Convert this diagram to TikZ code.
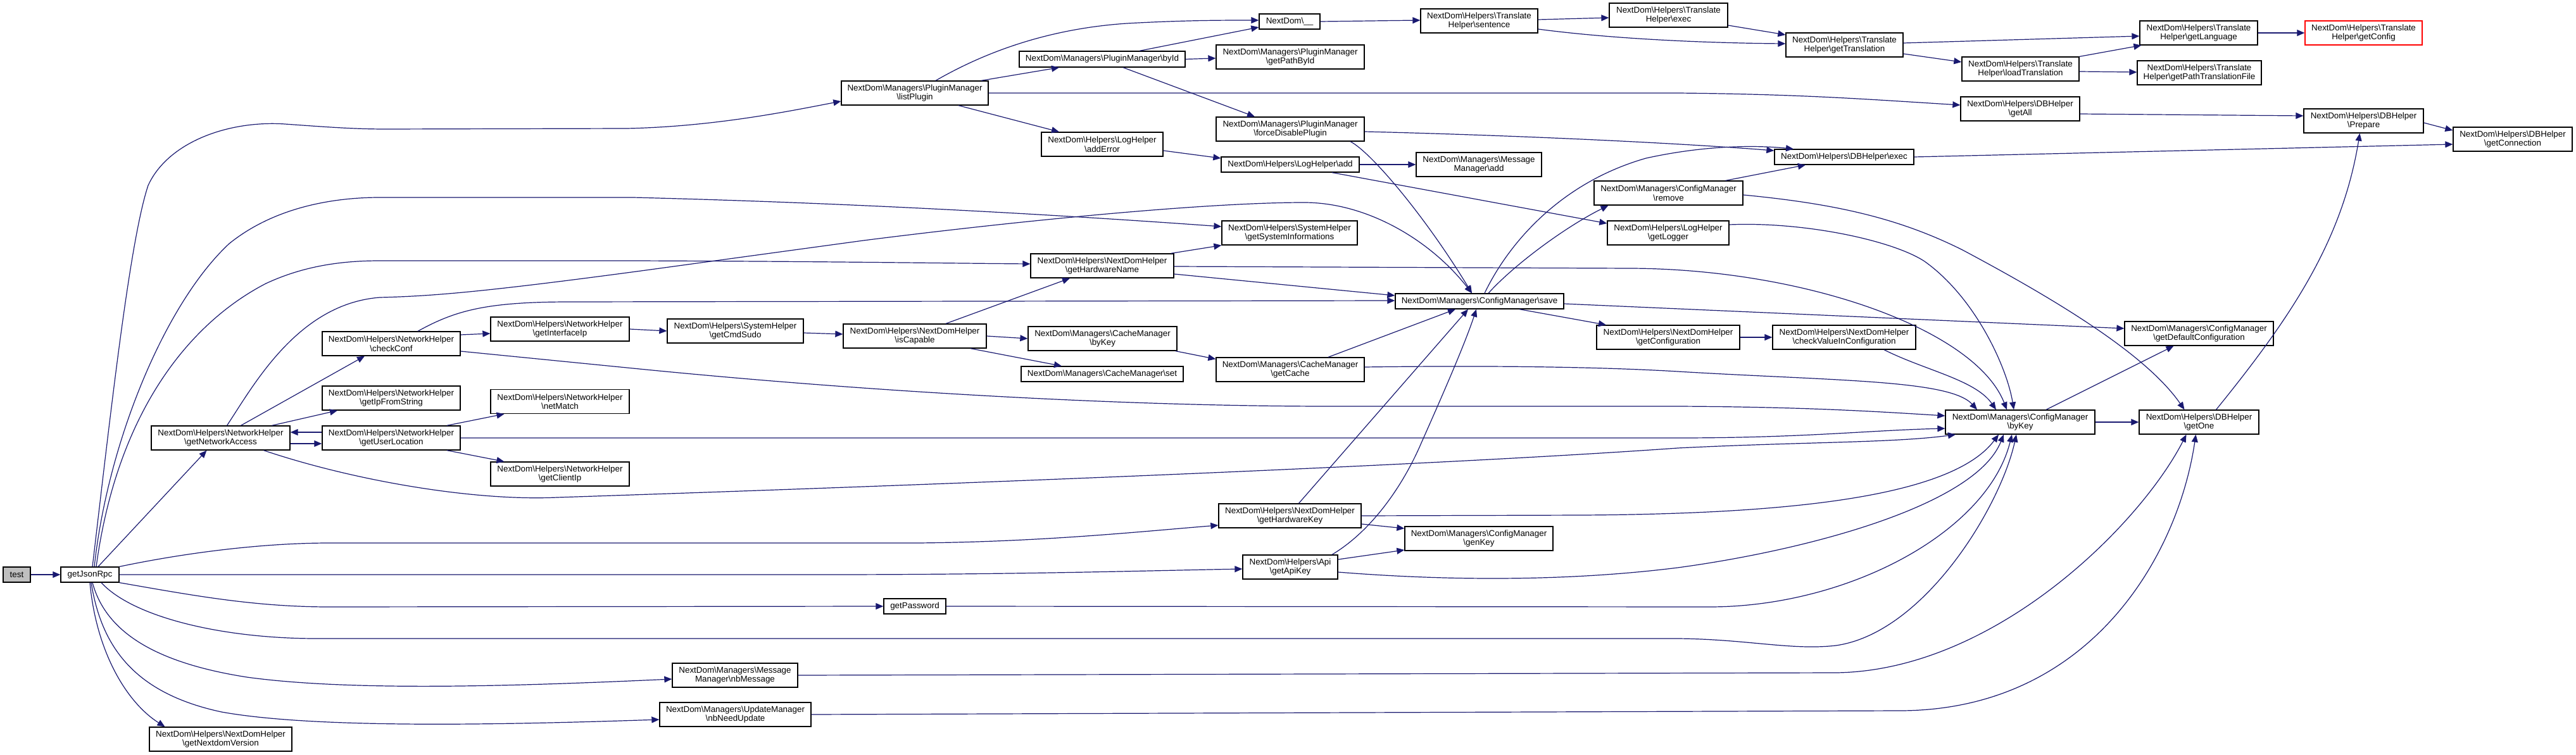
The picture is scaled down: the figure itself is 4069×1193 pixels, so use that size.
\documentclass[tikz,border=0pt]{standalone}
\usepackage{fontspec}
\setmainfont{Liberation Sans}
\usetikzlibrary{arrows.meta}
\definecolor{edgeblue}{HTML}{191970}
\definecolor{grayfill}{HTML}{BFBFBF}
\newcommand{\bsl}{\textbackslash}
\begin{document}
\begin{tikzpicture}[x=1pt,y=-1pt,
  box/.style={draw=black, fill=white, line width=1.3pt, inner sep=0pt, align=center, font=\fontsize{13.4}{14.5}\selectfont},
  e/.style={draw=edgeblue, line width=1.2pt, -{Triangle[length=12pt,width=10pt]}}]
\fill[white] (0,0) rectangle (4069,1193);
\useasboundingbox (0,0) rectangle (4069,1193);

% nodes
\node[box,minimum width=43pt,minimum height=24pt,fill=grayfill] (test) at (26.5,908) {test};
\node[box,minimum width=92pt,minimum height=24pt] (gjr) at (142,908) {getJsonRpc};
\node[box,minimum width=232pt,minimum height=38pt] (lp) at (1445,147) {NextDom\bsl Managers\bsl PluginManager\\\bsl listPlugin};
\node[box,minimum width=262pt,minimum height=25pt] (bid) at (1741,93.5) {NextDom\bsl Managers\bsl PluginManager\bsl byId};
\node[box,minimum width=192pt,minimum height=38pt] (ae) at (1741,228) {NextDom\bsl Helpers\bsl LogHelper\\\bsl addError};
\node[box,minimum width=96pt,minimum height=24pt] (ndu) at (2037,34) {NextDom\bsl\_\_};
\node[box,minimum width=234pt,minimum height=38pt] (gpb) at (2038,90) {NextDom\bsl Managers\bsl PluginManager\\\bsl getPathById};
\node[box,minimum width=234pt,minimum height=38pt] (fdp) at (2038,204) {NextDom\bsl Managers\bsl PluginManager\\\bsl forceDisablePlugin};
\node[box,minimum width=218pt,minimum height=24pt] (la) at (2038,260) {NextDom\bsl Helpers\bsl LogHelper\bsl add};
\node[box,minimum width=185pt,minimum height=38pt] (sent) at (2336.5,33) {NextDom\bsl Helpers\bsl Translate\\Helper\bsl sentence};
\node[box,minimum width=187pt,minimum height=38pt] (tex) at (2635.5,24) {NextDom\bsl Helpers\bsl Translate\\Helper\bsl exec};
\node[box,minimum width=185pt,minimum height=38pt] (gt) at (2913.5,71) {NextDom\bsl Helpers\bsl Translate\\Helper\bsl getTranslation};
\node[box,minimum width=186pt,minimum height=38pt] (gl) at (3473,52) {NextDom\bsl Helpers\bsl Translate\\Helper\bsl getLanguage};
\node[box,minimum width=185pt,minimum height=38pt,draw=red] (gcf) at (3733.5,52) {NextDom\bsl Helpers\bsl Translate\\Helper\bsl getConfig};
\node[box,minimum width=185pt,minimum height=38pt] (lt) at (3191.5,109) {NextDom\bsl Helpers\bsl Translate\\Helper\bsl loadTranslation};
\node[box,minimum width=196pt,minimum height=38pt] (gptf) at (3474,115) {NextDom\bsl Helpers\bsl Translate\\Helper\bsl getPathTranslationFile};
\node[box,minimum width=188pt,minimum height=38pt] (ga) at (3191,172) {NextDom\bsl Helpers\bsl DBHelper\\\bsl getAll};
\node[box,minimum width=189pt,minimum height=38pt] (prep) at (3733.5,191) {NextDom\bsl Helpers\bsl DBHelper\\\bsl Prepare};
\node[box,minimum width=188pt,minimum height=38pt] (gcn) at (3969,220) {NextDom\bsl Helpers\bsl DBHelper\\\bsl getConnection};
\node[box,minimum width=220pt,minimum height=24pt] (dbe) at (2913,248) {NextDom\bsl Helpers\bsl DBHelper\bsl exec};
\node[box,minimum width=198pt,minimum height=38pt] (ma) at (2336,260) {NextDom\bsl Managers\bsl Message\\Manager\bsl add};
\node[box,minimum width=235pt,minimum height=38pt] (rem) at (2635.5,305) {NextDom\bsl Managers\bsl ConfigManager\\\bsl remove};
\node[box,minimum width=192pt,minimum height=38pt] (glog) at (2635,368) {NextDom\bsl Helpers\bsl LogHelper\\\bsl getLogger};
\node[box,minimum width=214pt,minimum height=38pt] (gsi) at (2037,368) {NextDom\bsl Helpers\bsl SystemHelper\\\bsl getSystemInformations};
\node[box,minimum width=226pt,minimum height=38pt] (ghn) at (1741,420) {NextDom\bsl Helpers\bsl NextDomHelper\\\bsl getHardwareName};
\node[box,minimum width=266pt,minimum height=24pt] (save) at (2337,476) {NextDom\bsl Managers\bsl ConfigManager\bsl save};
\node[box,minimum width=218pt,minimum height=38pt] (cc) at (618,543) {NextDom\bsl Helpers\bsl NetworkHelper\\\bsl checkConf};
\node[box,minimum width=219pt,minimum height=38pt] (gii) at (884.5,520) {NextDom\bsl Helpers\bsl NetworkHelper\\\bsl getInterfaceIp};
\node[box,minimum width=215pt,minimum height=38pt] (gcs) at (1161.5,523) {NextDom\bsl Helpers\bsl SystemHelper\\\bsl getCmdSudo};
\node[box,minimum width=226pt,minimum height=38pt] (isc) at (1445,531) {NextDom\bsl Helpers\bsl NextDomHelper\\\bsl isCapable};
\node[box,minimum width=235pt,minimum height=38pt] (cmbk) at (1741.5,535) {NextDom\bsl Managers\bsl CacheManager\\\bsl byKey};
\node[box,minimum width=256pt,minimum height=24pt] (cset) at (1741,591) {NextDom\bsl Managers\bsl CacheManager\bsl set};
\node[box,minimum width=234pt,minimum height=38pt] (gc) at (2038,584) {NextDom\bsl Managers\bsl CacheManager\\\bsl getCache};
\node[box,minimum width=226pt,minimum height=38pt] (gcfg) at (2635,533) {NextDom\bsl Helpers\bsl NextDomHelper\\\bsl getConfiguration};
\node[box,minimum width=226pt,minimum height=38pt] (cvi) at (2913,533) {NextDom\bsl Helpers\bsl NextDomHelper\\\bsl checkValueInConfiguration};
\node[box,minimum width=235pt,minimum height=38pt] (gdc) at (3473.5,527) {NextDom\bsl Managers\bsl ConfigManager\\\bsl getDefaultConfiguration};
\node[box,minimum width=218pt,minimum height=38pt] (gifs) at (618,629) {NextDom\bsl Helpers\bsl NetworkHelper\\\bsl getIpFromString};
\node[box,minimum width=219pt,minimum height=38pt] (nm) at (884.5,634.5) {NextDom\bsl Helpers\bsl NetworkHelper\\\bsl netMatch};
\node[box,minimum width=219pt,minimum height=38pt] (gna) at (348.5,692) {NextDom\bsl Helpers\bsl NetworkHelper\\\bsl getNetworkAccess};
\node[box,minimum width=218pt,minimum height=38pt] (gul) at (618,692) {NextDom\bsl Helpers\bsl NetworkHelper\\\bsl getUserLocation};
\node[box,minimum width=219pt,minimum height=38pt] (gci) at (884.5,749) {NextDom\bsl Helpers\bsl NetworkHelper\\\bsl getClientIp};
\node[box,minimum width=236pt,minimum height=38pt] (cfgbk) at (3191,667) {NextDom\bsl Managers\bsl ConfigManager\\\bsl byKey};
\node[box,minimum width=189pt,minimum height=38pt] (go) at (3473.5,667) {NextDom\bsl Helpers\bsl DBHelper\\\bsl getOne};
\node[box,minimum width=225pt,minimum height=38pt] (ghk) at (2037.5,815) {NextDom\bsl Helpers\bsl NextDomHelper\\\bsl getHardwareKey};
\node[box,minimum width=234pt,minimum height=38pt] (gk) at (2336,851) {NextDom\bsl Managers\bsl ConfigManager\\\bsl genKey};
\node[box,minimum width=150pt,minimum height=38pt] (gak) at (2038,896) {NextDom\bsl Helpers\bsl Api\\\bsl getApiKey};
\node[box,minimum width=98pt,minimum height=24pt] (gpw) at (1445,958) {getPassword};
\node[box,minimum width=198pt,minimum height=38pt] (nbm) at (1161,1067) {NextDom\bsl Managers\bsl Message\\Manager\bsl nbMessage};
\node[box,minimum width=239pt,minimum height=38pt] (nbu) at (1161.5,1129) {NextDom\bsl Managers\bsl UpdateManager\\\bsl nbNeedUpdate};
\node[box,minimum width=225pt,minimum height=38pt] (gnv) at (348.5,1168) {NextDom\bsl Helpers\bsl NextDomHelper\\\bsl getNextdomVersion};

% edges
\draw[e] (test.east) -- (gjr.west);
\draw[e] ([xshift=4pt]gjr.north) .. controls (175,650) and (205,380) .. (234,293) .. controls (265,225) and (360,190) .. (450,196) .. controls (520,201) and (560,204) .. (610,204) -- (990,203) .. controls (1130,200) and (1250,175) .. ([yshift=-13pt]lp.west);
\draw[e] ([xshift=7pt]gjr.north) .. controls (170,700) and (260,480) .. (362,385) .. controls (430,330) and (520,312) .. (600,312) -- (1000,312) .. controls (1400,322) and (1750,345) .. ([yshift=10pt]gsi.west);
\draw[e] ([xshift=10pt]gjr.north) .. controls (185,650) and (300,510) .. (420,448) .. controls (480,420) and (540,412) .. (600,412) -- (1000,412) .. controls (1300,413) and (1500,416) .. ([yshift=3pt]ghn.west);
\draw[e] ([xshift=13pt]gjr.north) -- ([xshift=-22pt]gna.south);
\draw[e] (gjr.north east) .. controls (300,872) and (420,858) .. (520,858) -- (1450,858) .. controls (1650,856) and (1800,840) .. ([yshift=-15pt]ghk.west);
\draw[e] (gjr.east) -- (1300,908) .. controls (1600,908) and (1800,902) .. ([yshift=-3pt]gak.west);
\draw[e] (gjr.south east) .. controls (300,940) and (400,959) .. (520,959) -- (gpw.west);
\draw[e] ([xshift=18pt]gjr.south) .. controls (210,975) and (350,1009) .. (500,1009) -- (2650,1009) .. controls (2760,1010) and (2830,1028) .. (2900,1020) .. controls (3040,1000) and (3160,800) .. ([xshift=-6pt]cfgbk.south);
\draw[e] ([xshift=4pt]gjr.south) .. controls (165,990) and (230,1045) .. (390,1070) .. controls (550,1092) and (800,1085) .. ([yshift=-6pt]nbm.west);
\draw[e] ([xshift=2pt]gjr.south) .. controls (160,1020) and (210,1095) .. (350,1125) .. controls (500,1152) and (800,1145) .. ([yshift=-8pt]nbu.west);
\draw[e] (gjr.south) .. controls (152,1030) and (200,1110) .. ([xshift=-88pt]gnv.north);

\draw[e] ([xshift=32pt]gna.north) -- ([xshift=-42pt]cc.south);
\draw[e] ([xshift=81pt]gna.north) -- ([xshift=-85pt]gifs.south);
\draw[e] ([yshift=-9pt]gna.east) -- ([yshift=-9pt]gul.west);
\draw[e] ([yshift=9pt]gul.west) -- ([yshift=9pt]gna.east);
\draw[e] ([xshift=10pt]gna.north) .. controls (400,610) and (470,480) .. (600,470) .. controls (680,468) and (760,462) .. (1020,427) -- (1364,380) .. controls (1600,350) and (1900,320) .. (2060,320) .. controls (2160,320) and (2260,380) .. ([xshift=-12pt]save.north);
\draw[e] ([xshift=68pt]gna.south) .. controls (560,760) and (750,792) .. (880,786) .. controls (1300,772) and (2200,740) .. (2650,708) .. controls (2850,698) and (2990,700) .. ([xshift=-102pt]cfgbk.south);

\draw[e] ([yshift=14pt]cc.east) -- ([yshift=-7pt]gii.west);
\draw[e] ([xshift=42pt]cc.north) .. controls (720,490) and (770,477) .. (900,477) -- ([yshift=1pt]save.west);
\draw[e] ([yshift=-12pt]cc.east) -- (1000,582) .. controls (1400,622) and (1800,642) .. (2100,642) -- (2650,642) .. controls (2850,643) and (2960,650) .. ([yshift=10pt]cfgbk.west);
\draw[e] (gii.east) -- (gcs.west);
\draw[e] ([yshift=-3pt]gcs.east) -- ([yshift=3pt]isc.west);
\draw[e] ([xshift=49pt]isc.north) -- ([xshift=-51pt]ghn.south);
\draw[e] (isc.east) -- (cmbk.west);
\draw[e] ([xshift=88pt]isc.south) -- ([xshift=-64pt]cset.north);
\draw[e] ([xshift=-3pt]cmbk.south east) -- ([yshift=-3pt]gc.north west);
\draw[e] ([xshift=60pt]gc.north) -- ([xshift=-38pt]save.south);
\draw[e] ([yshift=4pt]gc.east) .. controls (2300,578) and (2500,578) .. (2650,587) .. controls (2900,602) and (3080,600) .. ([xshift=-68pt]cfgbk.north);

\draw[e] ([xshift=-5pt]ghn.north east) -- (gsi.south west);
\draw[e] ([yshift=-13pt]ghn.east) -- ([yshift=9pt]save.west);
\draw[e] ([yshift=-1pt]ghn.east) -- (2575,424) .. controls (2850,425) and (3120,520) .. ([xshift=-21pt]cfgbk.north);

\draw[e] ([xshift=14pt]ghk.north) -- ([xshift=-18pt]save.south);
\draw[e] ([yshift=-13pt]ghk.east) -- ([yshift=16pt]gk.west);
\draw[e] (ghk.east) -- (2500,814) .. controls (2800,812) and (3080,790) .. ([xshift=-34pt]cfgbk.south);
\draw[e] ([yshift=12pt]gak.east) -- ([yshift=-18pt]gk.west);
\draw[e] ([xshift=66pt]gak.north) .. controls (2165,840) and (2215,770) .. (2245,700) .. controls (2285,610) and (2315,540) .. ([xshift=-5pt]save.south);
\draw[e] ([yshift=-8pt]gak.east) .. controls (2250,915) and (2450,922) .. (2650,897) .. controls (2850,870) and (3120,800) .. ([xshift=-26pt]cfgbk.south);
\draw[e] (gpw.east) -- (2700,959) .. controls (2920,959) and (3140,840) .. ([xshift=-13pt]cfgbk.south);
\draw[e] (nbm.east) -- (2900,1063) .. controls (3150,1060) and (3380,830) .. ([xshift=-20pt]go.south);
\draw[e] (nbu.east) -- (3000,1123) .. controls (3300,1123) and (3440,880) .. ([xshift=-5pt]go.south);

\draw[e] ([yshift=-3pt]rem.east) .. controls (2900,322) and (3000,345) .. (3100,395) .. controls (3250,475) and (3390,560) .. ([xshift=-23pt]go.north);
\draw[e] ([xshift=90pt]rem.north) -- ([xshift=-61pt]dbe.south);
\draw[e] ([yshift=13pt]glog.east) .. controls (2850,350) and (2990,380) .. (3040,413) .. controls (3120,470) and (3170,580) .. ([xshift=-10pt]cfgbk.north);
\draw[e] ([yshift=-10pt]ae.east) -- ([yshift=10pt]la.west);
\draw[e] (la.east) -- (ma.west);
\draw[e] ([xshift=66pt]la.south) -- ([yshift=15pt]glog.west);

\draw[e] ([xshift=33pt]lp.north) .. controls (1560,80) and (1660,45) .. (1780,37) .. controls (1870,32) and (1930,32) .. ([yshift=2pt]ndu.west);
\draw[e] ([xshift=105pt]lp.north) -- ([xshift=-68pt]bid.south);
\draw[e] ([xshift=69pt]lp.south) -- ([xshift=-68pt]ae.north);
\draw[e] (lp.east) -- (2650,147) .. controls (2850,149) and (2950,157) .. ([yshift=6pt]ga.west);
\draw[e] ([xshift=59pt]bid.north) -- ([yshift=-9pt]ndu.west);
\draw[e] (bid.east) -- ([yshift=-2pt]gpb.west);
\draw[e] ([xshift=33pt]bid.south) -- ([xshift=-56pt]fdp.north);
\draw[e] (ndu.east) -- ([yshift=1pt]sent.west);
\draw[e] ([yshift=2pt]sent.east) -- ([yshift=-4pt]tex.west);
\draw[e] ([yshift=-13pt]sent.east) .. controls (2550,62) and (2700,68) .. ([yshift=2pt]gt.west);
\draw[e] ([yshift=-16pt]tex.east) -- ([yshift=16pt]gt.west);
\draw[e] ([yshift=3pt]gt.east) -- ([yshift=-5pt]gl.west);
\draw[e] ([yshift=-14pt]gt.east) -- ([yshift=11pt]lt.west);
\draw[e] (lt.north east) -- ([xshift=3pt]gl.south west);
\draw[e] ([yshift=-4pt]lt.east) -- ([yshift=1pt]gptf.west);
\draw[e] (gl.east) -- (gcf.west);
\draw[e] ([yshift=-8pt]ga.east) -- ([yshift=8pt]prep.west);
\draw[e] ([yshift=-3pt]prep.east) -- ([yshift=14pt]gcn.west);
\draw[e] (dbe.east) -- ([yshift=-8pt]gcn.west);
\draw[e] ([xshift=27pt]go.north) .. controls (3620,500) and (3700,380) .. ([xshift=-6pt]prep.south);
\draw[e] ([yshift=-4pt]fdp.east) .. controls (2400,214) and (2650,226) .. ([yshift=10pt]dbe.west);
\draw[e] ([xshift=95pt]fdp.south) .. controls (2165,240) and (2250,340) .. ([xshift=-12pt]save.north);

\draw[e] ([xshift=8pt]save.north) .. controls (2380,390) and (2460,290) .. (2600,250) .. controls (2700,228) and (2780,230) .. ([xshift=-80pt]dbe.north);
\draw[e] ([xshift=14pt]save.north) .. controls (2390,420) and (2470,360) .. ([xshift=-95pt]rem.south);
\draw[e] ([xshift=63pt]save.south) -- ([xshift=-98pt]gcfg.north);
\draw[e] ([yshift=-4pt]save.east) -- ([yshift=8pt]gdc.west);
\draw[e] (gcfg.east) -- (cvi.west);
\draw[e] ([xshift=63pt]cvi.south) .. controls (3040,585) and (3120,600) .. ([xshift=-38pt]cfgbk.north);
\draw[e] (cfgbk.east) -- (go.west);
\draw[e] ([xshift=41pt]cfgbk.north) -- ([xshift=-40pt]gdc.south);

\draw[e] ([xshift=88pt]gul.north) -- ([xshift=-88pt]nm.south);
\draw[e] ([xshift=88pt]gul.south) -- ([xshift=-88pt]gci.north);
\draw[e] (gul.east) -- (2650,692) .. controls (2850,692) and (2950,680) .. ([yshift=-10pt]cfgbk.west);
\end{tikzpicture}
\end{document}
